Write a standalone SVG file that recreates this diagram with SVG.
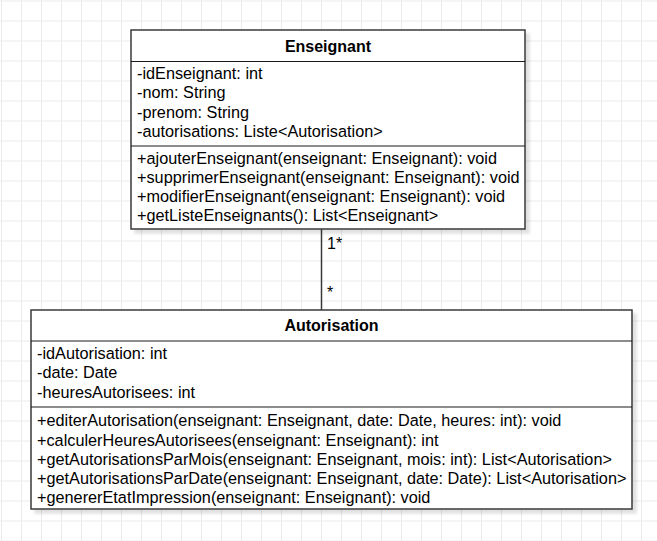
<svg xmlns="http://www.w3.org/2000/svg" width="657" height="541" viewBox="0 0 657 541">
  <defs>
    <pattern id="grid" x="1" y="0.5" width="20" height="20" patternUnits="userSpaceOnUse">
      <path d="M0.5 0 V20 M0 0.5 H20" fill="none" stroke="#ebebeb" stroke-width="1"/>
    </pattern>
    <filter id="shadow" x="-5%" y="-5%" width="115%" height="115%">
      <feGaussianBlur in="SourceAlpha" stdDeviation="1.5"/>
      <feOffset dx="4" dy="4" result="b"/>
      <feComponentTransfer><feFuncA type="linear" slope="0.12"/></feComponentTransfer>
      <feMerge><feMergeNode/><feMergeNode in="SourceGraphic"/></feMerge>
    </filter>
  </defs>
  <style>
    .box { fill: #ffffff; stroke: #3a3a3a; stroke-width: 1.5; }
    .sep { stroke: #1a1a1a; stroke-width: 1; }
    .title { font-family: "Liberation Sans", Arial, sans-serif; font-size: 16px; font-weight: bold; fill: #000; text-anchor: middle; }
    .t { font-family: "Liberation Sans", Arial, sans-serif; font-size: 16.25px; fill: #000; }
    .conn { stroke: #3a3a3a; stroke-width: 1.5; fill: none; }
    .lbl { font-family: "Liberation Sans", Arial, sans-serif; font-size: 16px; fill: #000; }
  </style>
  <rect width="657" height="541" fill="#ffffff"/>
  <rect width="657" height="541" fill="url(#grid)"/>

  <g id="connectors">
    <line class="conn" x1="321.5" y1="229" x2="321.5" y2="310"/>
    <text class="lbl" x="327" y="248.5">1*</text>
    <text class="lbl" x="327" y="298">*</text>
  </g>

  <g id="Enseignant">
    <rect class="box" x="131" y="30" width="394" height="199" filter="url(#shadow)"/>
    <line class="sep" x1="131" y1="61.5" x2="525" y2="61.5"/>
    <line class="sep" x1="131" y1="146" x2="525" y2="146"/>
    <text class="title" x="328" y="52">Enseignant</text>
    <text class="t" x="137" y="79.2">-idEnseignant: int</text>
    <text class="t" x="137" y="98.4">-nom: String</text>
    <text class="t" x="137" y="117.6">-prenom: String</text>
    <text class="t" x="137" y="136.8">-autorisations: Liste&lt;Autorisation&gt;</text>
    <text class="t" x="137" y="163.8">+ajouterEnseignant(enseignant: Enseignant): void</text>
    <text class="t" x="137" y="183">+supprimerEnseignant(enseignant: Enseignant): void</text>
    <text class="t" x="137" y="202.2">+modifierEnseignant(enseignant: Enseignant): void</text>
    <text class="t" x="137" y="221.4">+getListeEnseignants(): List&lt;Enseignant&gt;</text>
  </g>

  <g id="Autorisation">
    <rect class="box" x="31" y="310" width="601" height="199" filter="url(#shadow)"/>
    <line class="sep" x1="31" y1="341" x2="632" y2="341"/>
    <line class="sep" x1="31" y1="407" x2="632" y2="407"/>
    <text class="title" x="331.5" y="331">Autorisation</text>
    <text class="t" x="37" y="359.2">-idAutorisation: int</text>
    <text class="t" x="37" y="378.4">-date: Date</text>
    <text class="t" x="37" y="397.6">-heuresAutorisees: int</text>
    <text class="t" x="37" y="426.4">+editerAutorisation(enseignant: Enseignant, date: Date, heures: int): void</text>
    <text class="t" x="37" y="445.6">+calculerHeuresAutorisees(enseignant: Enseignant): int</text>
    <text class="t" x="37" y="464.8">+getAutorisationsParMois(enseignant: Enseignant, mois: int): List&lt;Autorisation&gt;</text>
    <text class="t" x="37" y="484">+getAutorisationsParDate(enseignant: Enseignant, date: Date): List&lt;Autorisation&gt;</text>
    <text class="t" x="37" y="503.2">+genererEtatImpression(enseignant: Enseignant): void</text>
  </g>
</svg>
